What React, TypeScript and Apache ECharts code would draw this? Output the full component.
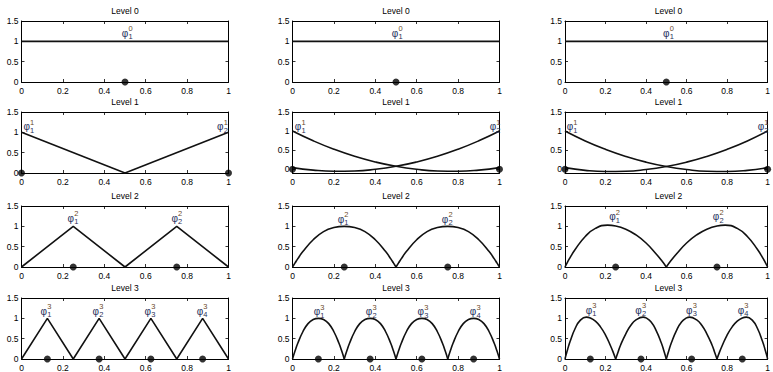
import React, { useEffect, useRef } from "react";
import * as echarts from "echarts";

const xTicks = [0, 0.2, 0.4, 0.6, 0.8, 1];
const yTicks = [0, 0.5, 1, 1.5];
const levelTitles = ["Level 0", "Level 1", "Level 2", "Level 3"];

// node positions (dots) per level
const nodesL0 = [0.5];
const nodesL1 = [0, 1];
const nodesL2 = [0.25, 0.75];
const nodesL3 = [0.125, 0.375, 0.625, 0.875];

// Column 1: piecewise linear hats
const linL0X = [0, 1];
const linL0Y = [1, 1];
const linL1aX = [0, 0.5];
const linL1aY = [1, 0];
const linL1bX = [0.5, 1];
const linL1bY = [0, 1];
const linL2X = [0, 0.25, 0.5, 0.75, 1];
const linL2Y = [0, 1, 0, 1, 0];
const linL3X = [0, 0.125, 0.25, 0.375, 0.5, 0.625, 0.75, 0.875, 1];
const linL3Y = [0, 1, 0, 1, 0, 1, 0, 1, 0];

// Column 2: symmetric curved functions
const quadL0X = [0, 1];
const quadL0Y = [1, 1];
const quadL1X = [0, 0.1, 0.2, 0.3, 0.4, 0.5, 0.6, 0.7, 0.8, 0.9, 1];
const quadL1aY = [1, 0.744, 0.523, 0.338, 0.189, 0.075, -0.003, -0.046, -0.053, -0.024, 0.04];
const quadL1bY = [0.04, -0.024, -0.053, -0.046, -0.003, 0.075, 0.189, 0.338, 0.523, 0.744, 1];
const quadL2X = [0, 0.0125, 0.025, 0.05, 0.1, 0.15, 0.2, 0.25, 0.3, 0.35, 0.4, 0.45, 0.475, 0.4875, 0.5,
  0.5125, 0.525, 0.55, 0.6, 0.65, 0.7, 0.75, 0.8, 0.85, 0.9, 0.95, 0.975, 0.9875, 1];
const quadL2Y = [0, 0.1, 0.2, 0.38, 0.67, 0.87, 0.97, 1, 0.97, 0.87, 0.67, 0.38, 0.2, 0.1, 0,
  0.1, 0.2, 0.38, 0.67, 0.87, 0.97, 1, 0.97, 0.87, 0.67, 0.38, 0.2, 0.1, 0];
const quadL2Breaks = [0.5];
const quadL3X = [0, 0.0125, 0.025, 0.05, 0.075, 0.1, 0.125, 0.15, 0.175, 0.2, 0.225, 0.2375, 0.25,
  0.2625, 0.275, 0.3, 0.325, 0.35, 0.375, 0.4, 0.425, 0.45, 0.475, 0.4875, 0.5,
  0.5125, 0.525, 0.55, 0.575, 0.6, 0.625, 0.65, 0.675, 0.7, 0.725, 0.7375, 0.75,
  0.7625, 0.775, 0.8, 0.825, 0.85, 0.875, 0.9, 0.925, 0.95, 0.975, 0.9875, 1];
const quadL3Y = [0, 0.2, 0.38, 0.67, 0.87, 0.97, 1, 0.97, 0.87, 0.67, 0.38, 0.2, 0,
  0.2, 0.38, 0.67, 0.87, 0.97, 1, 0.97, 0.87, 0.67, 0.38, 0.2, 0,
  0.2, 0.38, 0.67, 0.87, 0.97, 1, 0.97, 0.87, 0.67, 0.38, 0.2, 0,
  0.2, 0.38, 0.67, 0.87, 0.97, 1, 0.97, 0.87, 0.67, 0.38, 0.2, 0];
const quadL3Breaks = [0.25, 0.5, 0.75];

// Column 3: skewed curved functions
const skewL0X = [0, 1];
const skewL0Y = [1, 1];
const skewL1X = [0, 0.1, 0.2, 0.3, 0.4, 0.5, 0.6, 0.7, 0.8, 0.9, 1];
const skewL1aY = [1, 0.74, 0.52, 0.335, 0.185, 0.07, -0.01, -0.055, -0.06, -0.03, 0.04];
const skewL1bY = [0.04, -0.03, -0.06, -0.055, -0.01, 0.07, 0.185, 0.335, 0.52, 0.74, 1];
const skewL2X = [0, 0.0125, 0.025, 0.05, 0.1, 0.15, 0.21, 0.25, 0.3, 0.35, 0.4, 0.45, 0.475, 0.5,
  0.525, 0.55, 0.6, 0.65, 0.7, 0.75, 0.79, 0.85, 0.9, 0.95, 0.975, 0.9875, 1];
const skewL2Y = [0, 0.12, 0.23, 0.43, 0.75, 0.95, 1.03, 1.01, 0.93, 0.79, 0.59, 0.32, 0.17, 0,
  0.17, 0.32, 0.59, 0.79, 0.93, 1.01, 1.03, 0.95, 0.75, 0.43, 0.23, 0.12, 0];
const skewL2Breaks = [0.5];
const skewL3X = [0, 0.00625, 0.0125, 0.025, 0.05, 0.075, 0.105, 0.125, 0.15, 0.175, 0.2, 0.225, 0.2375, 0.25,
  0.2625, 0.275, 0.3, 0.325, 0.35, 0.385, 0.4, 0.425, 0.45, 0.475, 0.4875, 0.5,
  0.5125, 0.525, 0.55, 0.575, 0.6, 0.615, 0.65, 0.675, 0.7, 0.725, 0.7375, 0.75,
  0.7625, 0.775, 0.8, 0.825, 0.85, 0.875, 0.895, 0.925, 0.95, 0.975, 0.9875, 0.99375, 1];
const skewL3Y = [0, 0.12, 0.23, 0.43, 0.75, 0.95, 1.03, 1.01, 0.93, 0.79, 0.59, 0.32, 0.17, 0,
  0.18, 0.35, 0.62, 0.83, 0.96, 1.03, 1.01, 0.91, 0.7, 0.4, 0.21, 0,
  0.21, 0.4, 0.7, 0.91, 1.01, 1.03, 0.96, 0.83, 0.62, 0.35, 0.18, 0,
  0.17, 0.32, 0.59, 0.79, 0.93, 1.01, 1.03, 0.95, 0.75, 0.43, 0.23, 0.12, 0];
const skewL3Breaks = [0.25, 0.5, 0.75];

// label anchor positions (x of phi glyph) per column & level
const labelXCol1 = [[0.5], [0.025, 0.96], [0.238, 0.74], [0.108, 0.359, 0.61, 0.862]];
const labelXCol2 = [[0.495], [0.027, 0.968], [0.234, 0.737], [0.118, 0.37, 0.62, 0.872]];
const labelXCol3 = [[0.5], [0.024, 0.967], [0.234, 0.745], [0.118, 0.363, 0.613, 0.868]];
const labelYCol1 = [1.2, 1.14, 1.2, 1.18];
const labelYCol2 = [1.2, 1.11, 1.17, 1.16];
const labelYCol3 = [1.2, 1.11, 1.24, 1.2];

const FONT = "'Liberation Sans', Arial, Helvetica, sans-serif";
const PHI_COLOR = "#26305e";
const SUP_COLOR = "#6b4a2a";
const SUB_COLOR = "#2a3058";
const colLeft = [21.5, 292.5, 565];
const rowTop = [21, 112, 206, 298];
const W = 207;
const H = 61;

function zip(xs: number[], ys: number[]) {
  return xs.map((x, i) => [x, ys[i]]);
}
function splitAt(xs: number[], ys: number[], breaks: number[]) {
  const segs: number[][][] = [];
  let cur: number[][] = [];
  xs.forEach((x, i) => {
    cur.push([x, ys[i]]);
    if (breaks.includes(x)) {
      segs.push(cur);
      cur = [[x, ys[i]]];
    }
  });
  if (cur.length > 1) segs.push(cur);
  return segs;
}

type Panel = {
  col: number;
  row: number;
  curves: number[][][];
  smooth: boolean;
  nodes: number[];
  labelX: number[];
  labelY: number;
  yMin: number;
};

export default function App() {
  const ref = useRef<HTMLDivElement>(null);
  useEffect(() => {
    document.body.style.margin = "0";
    if (!ref.current) return;
    const chart = echarts.init(ref.current, undefined, { renderer: "svg" });
    const nodes = [nodesL0, nodesL1, nodesL2, nodesL3];
    const panels: Panel[] = [
      { col: 0, row: 0, curves: [zip(linL0X, linL0Y)], smooth: false, nodes: nodes[0], labelX: labelXCol1[0], labelY: labelYCol1[0], yMin: 0 },
      { col: 0, row: 1, curves: [zip(linL1aX, linL1aY), zip(linL1bX, linL1bY)], smooth: false, nodes: nodes[1], labelX: labelXCol1[1], labelY: labelYCol1[1], yMin: 0 },
      { col: 0, row: 2, curves: [zip(linL2X, linL2Y)], smooth: false, nodes: nodes[2], labelX: labelXCol1[2], labelY: labelYCol1[2], yMin: 0 },
      { col: 0, row: 3, curves: [zip(linL3X, linL3Y)], smooth: false, nodes: nodes[3], labelX: labelXCol1[3], labelY: labelYCol1[3], yMin: 0 },
      { col: 1, row: 0, curves: [zip(quadL0X, quadL0Y)], smooth: false, nodes: nodes[0], labelX: labelXCol2[0], labelY: labelYCol2[0], yMin: 0 },
      { col: 1, row: 1, curves: [zip(quadL1X, quadL1aY), zip(quadL1X, quadL1bY)], smooth: true, nodes: nodes[1], labelX: labelXCol2[1], labelY: labelYCol2[1], yMin: -0.1 },
      { col: 1, row: 2, curves: splitAt(quadL2X, quadL2Y, quadL2Breaks), smooth: true, nodes: nodes[2], labelX: labelXCol2[2], labelY: labelYCol2[2], yMin: 0 },
      { col: 1, row: 3, curves: splitAt(quadL3X, quadL3Y, quadL3Breaks), smooth: true, nodes: nodes[3], labelX: labelXCol2[3], labelY: labelYCol2[3], yMin: 0 },
      { col: 2, row: 0, curves: [zip(skewL0X, skewL0Y)], smooth: false, nodes: nodes[0], labelX: labelXCol3[0], labelY: labelYCol3[0], yMin: 0 },
      { col: 2, row: 1, curves: [zip(skewL1X, skewL1aY), zip(skewL1X, skewL1bY)], smooth: true, nodes: nodes[1], labelX: labelXCol3[1], labelY: labelYCol3[1], yMin: -0.1 },
      { col: 2, row: 2, curves: splitAt(skewL2X, skewL2Y, skewL2Breaks), smooth: true, nodes: nodes[2], labelX: labelXCol3[2], labelY: labelYCol3[2], yMin: 0 },
      { col: 2, row: 3, curves: splitAt(skewL3X, skewL3Y, skewL3Breaks), smooth: true, nodes: nodes[3], labelX: labelXCol3[3], labelY: labelYCol3[3], yMin: 0 },
    ];

    const grids: any[] = [];
    const xAxes: any[] = [];
    const yAxes: any[] = [];
    const titles: any[] = [];
    const series: any[] = [];
    const axisLine = { show: true, onZero: false, lineStyle: { color: "#000", width: 1 } };
    const tick = { show: true, inside: true, length: 3, lineStyle: { color: "#000", width: 0.8 } };
    const lbl = { color: "#000", fontSize: 8.5, fontFamily: FONT };

    panels.forEach((p, i) => {
      grids.push({ left: colLeft[p.col], top: rowTop[p.row], width: W, height: H, containLabel: false });
      titles.push({
        text: levelTitles[p.row],
        left: colLeft[p.col] + W / 2,
        top: rowTop[p.row] - 15,
        textAlign: "center",
        padding: 0,
        textStyle: { fontSize: 8.5, fontWeight: "normal", color: "#000", fontFamily: FONT },
      });
      const xBase = { type: "value", gridIndex: i, min: 0, max: 1, interval: 0.2, splitLine: { show: false }, axisLine };
      xAxes.push({
        ...xBase, position: "bottom", axisTick: tick,
        axisLabel: { ...lbl, margin: 4, formatter: (v: number) => (xTicks.some((t) => Math.abs(t - v) < 1e-9) ? String(+v.toFixed(1)) : "") },
      });
      xAxes.push({ ...xBase, position: "top", axisTick: tick, axisLabel: { show: false } });
      const yBase: any = { type: "value", gridIndex: i, min: p.yMin, max: 1.5, splitLine: { show: false }, axisLine };
      if (p.yMin === 0) {
        yBase.interval = 0.5;
        yAxes.push({ ...yBase, position: "left", axisTick: tick, axisLabel: { ...lbl, margin: 3, formatter: (v: number) => String(+v.toFixed(1)) } });
        yAxes.push({ ...yBase, position: "right", axisTick: tick, axisLabel: { show: false } });
      } else {
        yAxes.push({
          ...yBase, position: "left",
          axisTick: { ...tick, customValues: yTicks },
          axisLabel: { ...lbl, margin: 3, customValues: yTicks, formatter: (v: number) => String(+(+v).toFixed(1)) },
        });
        yAxes.push({ ...yBase, position: "right", axisTick: { ...tick, customValues: yTicks }, axisLabel: { show: false } });
      }
      const xi = 2 * i;
      const yi = 2 * i;
      p.curves.forEach((c) => {
        series.push({
          type: "line", xAxisIndex: xi, yAxisIndex: yi, data: c, showSymbol: false, symbol: "none",
          smooth: p.smooth ? 0.5 : false, clip: false,
          lineStyle: { color: "#111", width: 1.6 }, z: 3,
        });
      });
      series.push({
        type: "scatter", xAxisIndex: xi, yAxisIndex: yi, data: p.nodes.map((x) => [x, 0]),
        symbolSize: 7, itemStyle: { color: "#000" }, clip: false, z: 6,
      });
      const lblData = p.labelX.map((x, k) => ({ value: [x, p.labelY], idx: k + 1 }));
      const mk = (formatter: any, offset: number[], color: string, size: number) => ({
        type: "scatter", xAxisIndex: xi, yAxisIndex: yi, data: lblData, symbolSize: 1, clip: false, z: 7,
        silent: true, itemStyle: { color: "#ffffff", opacity: 0.001 },
        label: {
          show: true, position: [0.5, 0.5], align: "center", verticalAlign: "middle", offset, formatter,
          color, fontSize: size, fontFamily: FONT, opacity: 1,
          textBorderColor: "#ffffff", textBorderWidth: 0,
        },
      });
      series.push(mk("φ", [0, 0], PHI_COLOR, 10));
      series.push(mk(String(p.row), [5.5, -4.5], SUP_COLOR, 7.5));
      series.push(mk((prm: any) => String(prm.data.idx), [5.5, 3.5], SUB_COLOR, 7.5));
    });

    chart.setOption({
      animation: false,
      backgroundColor: "#fff",
      title: titles,
      grid: grids,
      xAxis: xAxes,
      yAxis: yAxes,
      series,
    });
    return () => chart.dispose();
  }, []);
  return <div ref={ref} style={{ width: 773, height: 372 }} />;
}
